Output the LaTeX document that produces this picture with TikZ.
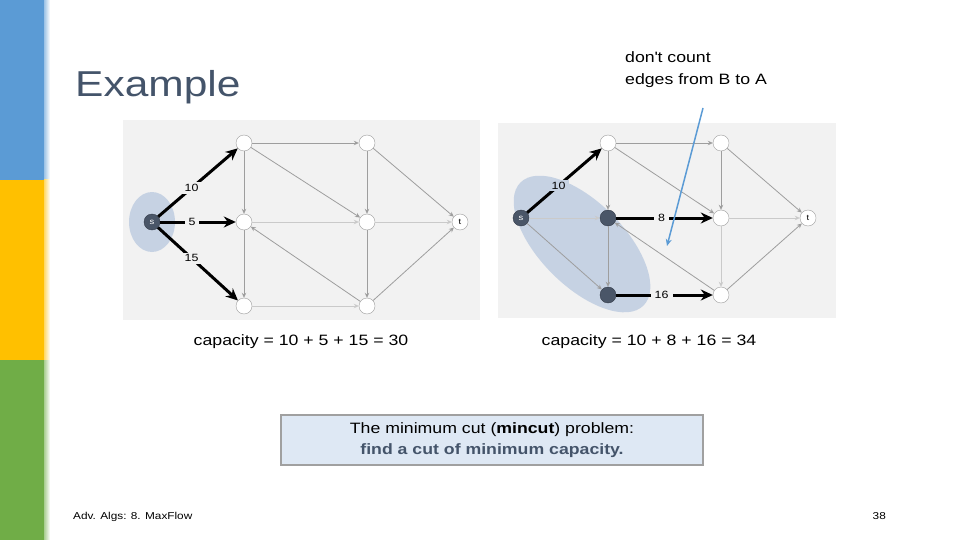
\documentclass[tikz,border=0pt]{standalone}
\usepackage{fontspec}
\setmainfont{Liberation Sans}[FakeStretch=1.18]
\usetikzlibrary{arrows.meta}

\definecolor{barblue}{RGB}{91,155,213}
\definecolor{baryellow}{RGB}{255,192,0}
\definecolor{bargreen}{RGB}{112,173,71}
\definecolor{slate}{RGB}{68,84,106}
\definecolor{panel}{RGB}{242,242,242}
\definecolor{cutfill}{RGB}{198,210,227}
\definecolor{darknode}{RGB}{74,86,104}
\definecolor{edgegray}{RGB}{158,158,158}
\definecolor{boxfill}{RGB}{222,232,244}
\definecolor{boxline}{RGB}{160,160,160}

\tikzset{
  vert/.style={circle, draw=edgegray, fill=white, minimum size=16pt, inner sep=0pt,
    font=\fontsize{8}{9}\selectfont},
  cutvert/.style={vert, draw=darknode!70!black, fill=darknode, text=white},
  flow/.style={-{Stealth[length=12pt,width=11pt]}, line width=3pt},
  plain/.style={-{Stealth[length=5pt,width=4.5pt]}, draw=edgegray, line width=0.8pt},
  faint/.style={plain, draw=edgegray!55},
  caplabel/.style={fill=panel, inner xsep=4pt, inner ysep=2pt, font=\fontsize{10.5}{12}\selectfont},
  bodytext/.style={inner sep=0pt, font=\fontsize{15}{18}\selectfont}
}

\begin{document}
\begin{tikzpicture}[x=1pt, y=-1pt]
  \useasboundingbox (0,0) rectangle (960,540);
  % side bars
  \fill [barblue]    (0,0)   rectangle (44,180);
  \fill [baryellow]  (0,180) rectangle (44,360);
  \fill [bargreen]   (0,360) rectangle (44,540);
  \shade [left color=barblue!60, right color=white]   (44,0)   rectangle (50,180);
  \shade [left color=baryellow!60, right color=white] (44,180) rectangle (50,360);
  \shade [left color=bargreen!60, right color=white]  (44,360) rectangle (50,540);

  \node [anchor=base west, inner sep=0pt, text=slate, font=\fontsize{36}{40}\selectfont] (title) at (75,97) {Example};

  % left network: cut around s only
  \fill [panel] (123,120) rectangle (480,320);
  \fill [cutfill] (152,222) ellipse [x radius=23, y radius=30];
  \node [cutvert] (ls)  at (152,222) {s};
  \node [vert]    (la1) at (244,143) {};
  \node [vert]    (lb1) at (367,143) {};
  \node [vert]    (la2) at (244,222) {};
  \node [vert]    (lb2) at (367,222) {};
  \node [vert]    (la3) at (244,306) {};
  \node [vert]    (lb3) at (367,306) {};
  \node [vert]    (lt)  at (460,222) {t};
  \draw [plain] (la1) -- (lb1);
  \draw [plain] (la1) -- (la2);
  \draw [plain] (la1) -- (lb2);
  \draw [plain] (lb1) -- (lb2);
  \draw [plain] (lb1) -- (lt);
  \draw [faint] (la2) -- (lb2);
  \draw [plain] (la2) -- (la3);
  \draw [faint] (lb2) -- (lt);
  \draw [plain] (lb2) -- (lb3);
  \draw [plain] (lb3) -- (la2);
  \draw [faint] (la3) -- (lb3);
  \draw [plain] (lb3) -- (lt);
  \draw [flow] (ls) -- node [caplabel, pos=0.42] {10} (la1);
  \draw [flow] (ls) -- node [caplabel, pos=0.42] {5} (la2);
  \draw [flow] (ls) -- node [caplabel, pos=0.42] {15} (la3);

  % right network: cut around s, A2, A3
  \fill [panel] (498,123) rectangle (836,318);
  \fill [cutfill, rotate around={-45:(582,244)}] (582,244) ellipse [x radius=87, y radius=42];
  \node [cutvert] (rs)  at (521,218) {s};
  \node [vert]    (ra1) at (608,143) {};
  \node [vert]    (rb1) at (721,143) {};
  \node [cutvert] (ra2) at (608,218) {};
  \node [vert]    (rb2) at (721,218) {};
  \node [cutvert] (ra3) at (608,295) {};
  \node [vert]    (rb3) at (721,295) {};
  \node [vert]    (rt)  at (808,218) {t};
  \draw [faint] (rs) -- (ra2);
  \draw [plain] (rs) -- (ra3);
  \draw [plain] (ra1) -- (rb1);
  \draw [plain] (ra1) -- (ra2);
  \draw [plain] (ra1) -- (rb2);
  \draw [plain] (rb1) -- (rb2);
  \draw [plain] (rb1) -- (rt);
  \draw [plain] (ra2) -- (ra3);
  \draw [faint] (rb2) -- (rt);
  \draw [faint] (rb2) -- (rb3);
  \draw [plain] (rb3) -- (ra2);
  \draw [plain] (rb3) -- (rt);
  \draw [flow] (rs) -- node [caplabel, fill=cutfill, pos=0.42] {10} (ra1);
  \draw [flow] (ra2) -- node [caplabel, pos=0.47] {8} (rb2);
  \draw [flow] (ra3) -- node [caplabel, pos=0.47] {16} (rb3);

  % note on the right cut
  \node [bodytext, anchor=north west, align=left, font=\fontsize{15}{22}\selectfont]
    (note) at (625,51) {don\textquotesingle t count\\edges from B to A};
  \coordinate (notetail) at (703,108);
  \coordinate (notehead) at (667,246);
  \draw [barblue, line width=1.5pt, -{Stealth[length=7pt,width=6pt]}] (notetail) -- (notehead);

  \node [bodytext, anchor=base] (capleft)  at (301,345) {capacity = 10 + 5 + 15 = 30};
  \node [bodytext, anchor=base] (capright) at (649,345) {capacity = 10 + 8 + 16 = 34};

  \node [draw=boxline, line width=2pt, fill=boxfill, minimum width=422, minimum height=50,
         align=center, font=\fontsize{15}{20.5}\selectfont] (mincut) at (492,440)
    {The minimum cut (\textbf{mincut}) problem:\\ \textcolor{slate}{\bfseries find a cut of minimum capacity.}};

  \node [anchor=base west, inner sep=0pt, font=\fontsize{10}{12}\selectfont] (footer) at (73,519) {Adv. Algs: 8. MaxFlow};
  \node [anchor=base east, inner sep=0pt, font=\fontsize{10}{12}\selectfont] (page) at (886,519) {38};
\end{tikzpicture}
\end{document}
